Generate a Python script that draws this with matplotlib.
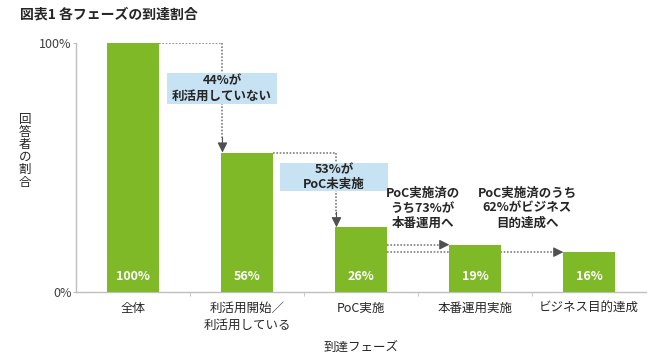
import matplotlib
matplotlib.use("Agg")
import matplotlib.pyplot as plt
from matplotlib.ticker import FixedLocator
from matplotlib.patches import Rectangle

plt.rcParams['font.family'] = ['Noto Sans CJK JP', 'DejaVu Sans']

categories = ["全体", "利活用開始／\n利活用している", "PoC実施", "本番運用実施", "ビジネス目的達成"]
values = [100, 56, 26, 19, 16]
value_labels = ["100%", "56%", "26%", "19%", "16%"]
title = "図表1 各フェーズの到達割合"
ylabel = "回答者の割合"
xlabel = "到達フェーズ"
box_notes = ["44%が\n利活用していない", "53%が\nPoC未実施"]
plain_notes = ["PoC実施済の\nうち73%が\n本番運用へ", "PoC実施済のうち\n62%がビジネス\n目的達成へ"]

bar_color = "#80b928"
box_color = "#c6e2f3"
line_color = "#7f7f7f"
head_color = "#505050"
axis_color = "#bfbfbf"
text_color = "#262626"

fig = plt.figure(figsize=(6.5, 3.58), dpi=100)
ax = fig.add_axes([76/650, (358-292)/358, 570/650, 249/358])

w = 0.45
x = list(range(len(values)))
ax.bar(x, values, width=w, color=bar_color, zorder=3)
ax.set_xlim(-0.5, len(values) - 0.5)
ax.set_ylim(0, 100)

for xi, lab in zip(x, value_labels):
    ax.text(xi, 6.4, lab, ha="center", va="center", color="white",
            fontsize=9, fontweight="bold", zorder=4)

dot = dict(color=line_color, lw=1.2, linestyle=(0, (1, 1)), zorder=2)

def head_down(xp, ytop):
    ax.annotate("", xy=(xp, ytop), xytext=(xp, ytop + 6),
                arrowprops=dict(arrowstyle="-|>,head_length=0.6,head_width=0.3",
                                color=head_color, lw=0.8, shrinkA=0, shrinkB=0),
                zorder=5)

def head_right(xp, y):
    ax.annotate("", xy=(xp, y), xytext=(xp - 0.08, y),
                arrowprops=dict(arrowstyle="-|>,head_length=0.6,head_width=0.3",
                                color=head_color, lw=0.8, shrinkA=0, shrinkB=0),
                zorder=5)

# step connectors: bar0 -> bar1, bar1 -> bar2
for i in range(2):
    x0 = x[i] + w/2
    x1 = x[i+1] - w/2 + 0.01
    ax.plot([x0, x1], [values[i], values[i]], **dot)
    ax.plot([x1, x1], [values[i], values[i+1] + 5], **dot)
    head_down(x1, values[i+1])

# horizontal connectors from bar2 to bar3 and bar4
for j in (3, 4):
    x0 = x[2] + w/2
    x1 = x[j] - w/2
    ax.plot([x0, x1 - 0.06], [values[j], values[j]], **dot)
    head_right(x1, values[j])

# boxed notes
ax.add_patch(Rectangle((0.30, 75.5), 0.96, 12.5, fc=box_color, ec="none", zorder=5))
ax.add_patch(Rectangle((1.29, 40.6), 0.95, 11.2, fc=box_color, ec="none", zorder=5))
ax.text(0.78, 81.7, box_notes[0], ha="center", va="center", fontsize=9,
        fontweight="bold", color=text_color, linespacing=1.2, zorder=6)
ax.text(1.765, 46.2, box_notes[1], ha="center", va="center", fontsize=9,
        fontweight="bold", color=text_color, linespacing=1.2, zorder=6)
ax.text(2.54, 33.7, plain_notes[0], ha="center", va="center", fontsize=9,
        fontweight="bold", color=text_color, linespacing=1.2, zorder=6)
ax.text(3.46, 33.7, plain_notes[1], ha="center", va="center", fontsize=9,
        fontweight="bold", color=text_color, linespacing=1.2, zorder=6)

# axes styling
for s in ("top", "right"):
    ax.spines[s].set_visible(False)
for s in ("left", "bottom"):
    ax.spines[s].set_color(axis_color)
    ax.spines[s].set_linewidth(1)

ax.set_xticks(x)
ax.set_xticklabels(categories, fontsize=9, color=text_color, linespacing=1.4)
ax.tick_params(axis="x", which="major", length=0, pad=7)
ax.xaxis.set_minor_locator(FixedLocator([i + 0.5 for i in range(len(values) - 1)]))
ax.tick_params(axis="x", which="minor", length=3, color=axis_color)

ax.set_yticks([0, 100])
ax.set_yticklabels(["0%", "100%"], fontsize=9, color="#404040")
ax.tick_params(axis="y", length=2, color=axis_color, pad=1)

fig.text(361/650, 1 - 347/358, xlabel, ha="center", va="center",
         fontsize=9, color=text_color)
fig.text(25/650, 1 - 151/358, "\n".join(ylabel), ha="center", va="center",
         fontsize=9, color=text_color, linespacing=0.95)
fig.text(20/650, 1 - 15/358, title, ha="left", va="center",
         fontsize=10, fontweight="bold", color=text_color)

fig.savefig("out.png", dpi=100)
